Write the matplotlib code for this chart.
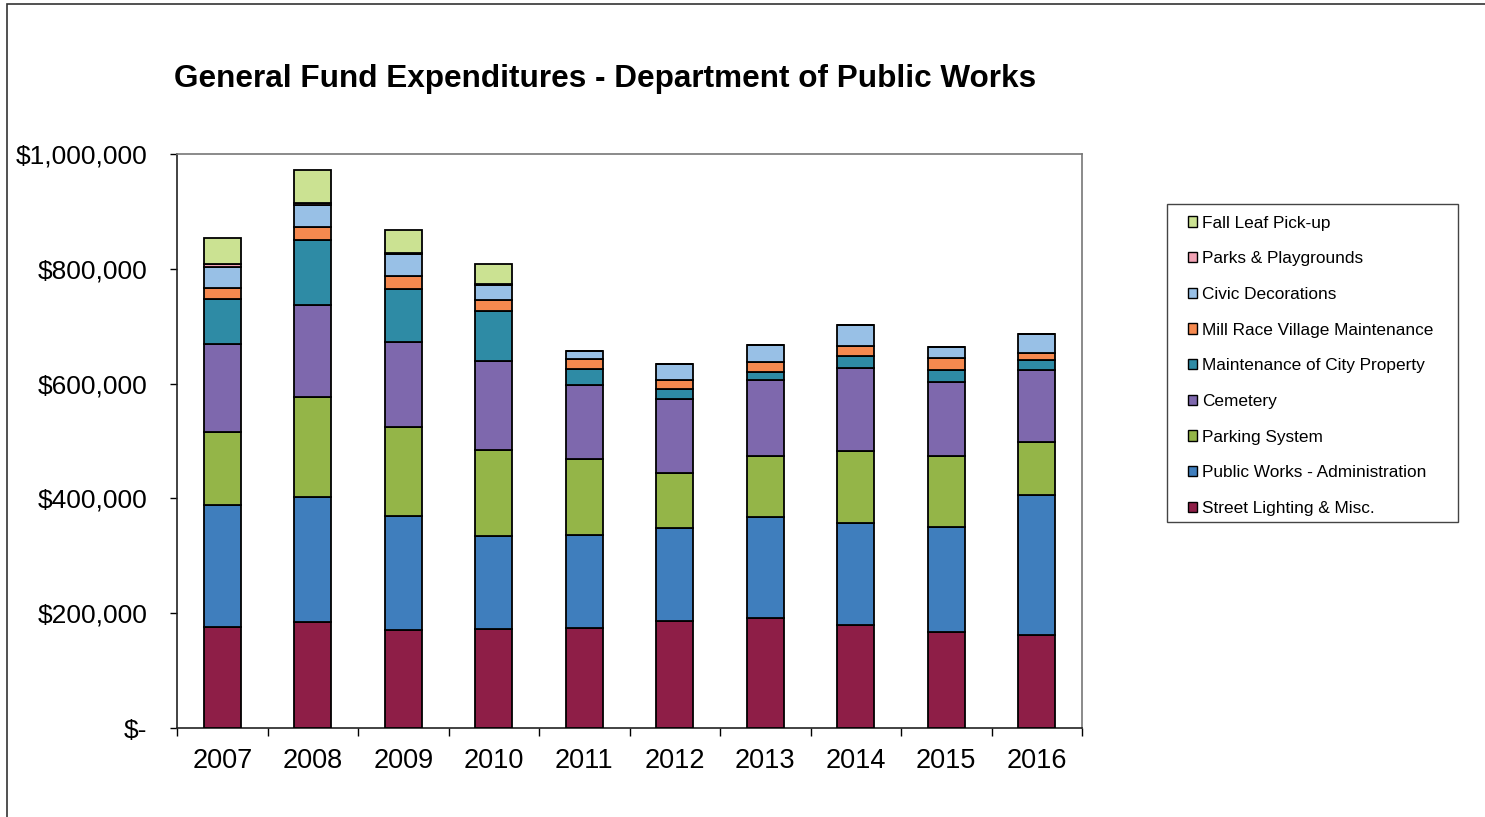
import matplotlib
matplotlib.use("Agg")
import matplotlib.pyplot as plt
from matplotlib.patches import Rectangle, Patch
from matplotlib.ticker import FuncFormatter, FixedLocator
import numpy as np

plt.rcParams['font.family'] = ['Liberation Sans', 'DejaVu Sans']

years = ["2007", "2008", "2009", "2010", "2011", "2012", "2013", "2014", "2015", "2016"]

street_lighting = [176000, 184000, 170000, 172000, 175000, 187000, 192000, 179000, 168000, 162000]
pw_admin        = [212000, 218000, 199000, 162000, 161000, 161000, 176000, 178000, 182000, 244000]
parking         = [128000, 174000, 155000, 151000, 133000,  97000, 105000, 126000, 123000,  92000]
cemetery        = [153000, 161000, 148000, 155000, 129000, 128000, 133000, 145000, 129000, 126000]
maint_city      = [ 78000, 113000,  93000,  87000,  27000,  17000,  14000,  20000,  22000,  17000]
mill_race       = [ 19000,  22000,  23000,  19000,  18000,  16000,  17000,  18000,  20000,  12000]
civic_decor     = [ 38000,  39000,  37000,  25000,  14000,  29000,  30000,  36000,  20000,  33000]
parks           = [  5000,   4000,   2000,   3000,      0,      0,      0,      0,      0,      0]
fall_leaf       = [ 44000,  57000,  41000,  35000,      0,      0,      0,      0,      0,      0]

series_names = ["Street Lighting & Misc.", "Public Works - Administration", "Parking System",
                "Cemetery", "Maintenance of City Property", "Mill Race Village Maintenance",
                "Civic Decorations", "Parks & Playgrounds", "Fall Leaf Pick-up"]
series_values = [street_lighting, pw_admin, parking, cemetery, maint_city, mill_race,
                 civic_decor, parks, fall_leaf]
series_colors = ["#8E1E47", "#3F7EBD", "#94B548", "#7E68AD", "#2E8BA5", "#F5894F",
                 "#98C0E6", "#F2A3B5", "#CBE292"]

y_ticks = [0, 200000, 400000, 600000, 800000, 1000000]

W, H = 1485, 817
fig = plt.figure(figsize=(W / 100, H / 100), dpi=100)
fig.patch.set_facecolor("white")

# outer frame of the chart
fig.patches.append(Rectangle((7 / W, -0.05), 1.2, 1 - 4 / H + 0.05, transform=fig.transFigure,
                             fill=False, edgecolor="#333333", linewidth=1.2))
# legend frame
fig.patches.append(Rectangle((1167 / W, 1 - 522 / H), (1458 - 1167) / W, (522 - 204) / H,
                             transform=fig.transFigure, fill=False, edgecolor="#444444",
                             linewidth=1.0))

ax = fig.add_axes([177 / W, 1 - 728 / H, 905 / W, 574 / H])
x = np.arange(len(years))
bottom = np.zeros(len(years))
handles = []
for name, vals, col in zip(series_names, series_values, series_colors):
    v = np.array(vals, dtype=float)
    ax.bar(x, v, width=0.41, bottom=bottom, color=col, edgecolor="black", linewidth=1.3,
           label=name, zorder=3)
    bottom += v
    handles.append(Patch(facecolor=col, edgecolor="black", linewidth=1.0, label=name))

ax.set_xlim(-0.5, len(years) - 0.5)
ax.set_ylim(0, 1000000)
ax.yaxis.set_major_locator(FixedLocator(y_ticks))
ax.yaxis.set_major_formatter(FuncFormatter(lambda v, p: "$-" if v == 0 else "${:,.0f}".format(v)))
ax.tick_params(axis="y", labelsize=19, length=5, width=1, pad=16.5, direction="out")
ax.set_xticks(x)
ax.set_xticklabels(years)
ax.tick_params(axis="x", which="major", length=0, labelsize=19.5, pad=14.5)
ax.set_xticks(np.arange(-0.5, len(years) + 0.5, 1), minor=True)
ax.tick_params(axis="x", which="minor", length=6, width=1, direction="out")

for s in ["top", "right"]:
    ax.spines[s].set_color("#777777")
    ax.spines[s].set_linewidth(1.2)
for s in ["left", "bottom"]:
    ax.spines[s].set_color("#222222")
    ax.spines[s].set_linewidth(1.2)

fig.text(174 / W, 1 - 79 / H, "General Fund Expenditures - Department of Public Works",
         fontsize=22.7, fontweight="bold", ha="left", va="center")

leg = fig.legend(handles=handles[::-1], loc="upper left",
                 bbox_to_anchor=(1188 / W, 1 - 215.5 / H), bbox_transform=fig.transFigure,
                 fontsize=12.4, frameon=False,
                 handlelength=0.55, handleheight=0.55, handletextpad=0.25,
                 labelspacing=1.2, borderpad=0, borderaxespad=0)

fig.savefig("out.png", dpi=100, facecolor="white")
